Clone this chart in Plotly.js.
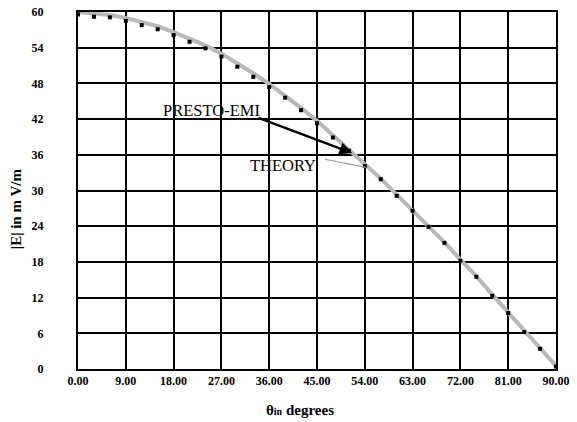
<!DOCTYPE html>
<html>
<head>
<meta charset="utf-8">
<script src="https://cdn.plot.ly/plotly-3.0.1.min.js"></script>
<style>html,body{margin:0;padding:0;background:#fff;}#chart{width:577px;height:422px;}</style>
</head>
<body>
<div id="chart"></div>
<script>
// Angle in degrees
const theta = [0,3,6,9,12,15,18,21,24,27,30,33,36,39,42,45,48,51,54,57,60,63,66,69,72,75,78,81,84,87,90];
// THEORY |E| (mV/m)
const theory = [60.0,59.8,59.5,59.0,58.3,57.6,56.6,55.5,54.4,53.0,51.4,49.7,47.9,46.0,43.9,41.7,39.3,37.0,34.4,32.0,29.3,26.7,24.0,21.3,18.4,15.6,12.5,9.5,6.4,3.3,0.5];
// PRESTO-EMI |E| (mV/m)
const presto = [59.6,59.2,59.1,58.5,57.8,57.1,56.1,55.0,53.9,52.5,50.8,49.1,47.4,45.6,43.5,41.3,38.9,36.7,34.1,31.9,29.1,26.6,23.9,21.2,18.2,15.5,12.3,9.4,6.2,3.4,0.4];
// Tick labels
const xTickVals = [0,9,18,27,36,45,54,63,72,81,90];
const xTickText = ["0.00","9.00","18.00","27.00","36.00","45.00","54.00","63.00","72.00","81.00","90.00"];
const yTickVals = [0,6,12,18,24,30,36,42,48,54,60];
const yTickText = ["0","6","12","18","24","30","36","42","48","54","60"];

const FAM = "Times New Roman";

const traces = [
  {x: theta, y: theory, type: 'scatter', mode: 'lines', name: 'THEORY',
   line: {color: '#b8b8b8', width: 4}, hoverinfo: 'skip'},
  {x: theta, y: presto, type: 'scatter', mode: 'markers', name: 'PRESTO-EMI',
   marker: {color: '#000', size: 4, symbol: 'square'}, hoverinfo: 'skip'}
];

const layout = {
  width: 577, height: 422,
  margin: {l: 78, r: 21, t: 12, b: 53},
  paper_bgcolor: '#fff', plot_bgcolor: '#fff',
  showlegend: false,
  xaxis: {
    range: [0, 90], tickvals: xTickVals, ticktext: xTickText,
    showgrid: true, gridcolor: '#000', gridwidth: 2,
    showline: true, linecolor: '#000', linewidth: 2, mirror: true,
    zeroline: false, ticks: '',
    tickfont: {family: FAM, size: 12, color: '#000', weight: 'bold'}
  },
  yaxis: {
    range: [0, 60], tickvals: yTickVals, ticktext: yTickText,
    showgrid: true, gridcolor: '#000', gridwidth: 2,
    showline: true, linecolor: '#000', linewidth: 2, mirror: true,
    zeroline: false, ticks: '', ticklabelstandoff: 30,
    tickfont: {family: FAM, size: 12, color: '#000', weight: 'bold'}
  },
  annotations: [
    {xref: 'paper', yref: 'paper', x: 0.465, y: -0.115, xanchor: 'center', yanchor: 'middle', showarrow: false,
     text: "<b>θ<span style='font-size:10px'>in</span> degrees</b>",
     font: {family: FAM, size: 15, color: '#000'}},
    {xref: 'paper', yref: 'paper', x: -0.128, y: 0.45, xanchor: 'center', yanchor: 'middle', showarrow: false, textangle: -90,
     text: "<b>|E| in m V/m</b>",
     font: {family: FAM, size: 15, color: '#000'}},
    {xref: 'x', yref: 'y', x: 25.2, y: 43.4, xanchor: 'center', yanchor: 'middle', showarrow: false,
     text: "PRESTO-EMI", font: {family: FAM, size: 16.5, color: '#000'}},
    {xref: 'x', yref: 'y', x: 51.6, y: 36.3, axref: 'x', ayref: 'y', ax: 33.7, ay: 42.3,
     text: '', showarrow: true, arrowhead: 2, arrowsize: 1, arrowwidth: 2.5, arrowcolor: '#000'},
    {xref: 'x', yref: 'y', x: 38.6, y: 34.2, xanchor: 'center', yanchor: 'middle', showarrow: false,
     text: "THEORY", font: {family: FAM, size: 16.5, color: '#000'}},
    {xref: 'x', yref: 'y', x: 54.2, y: 33.9, axref: 'x', ayref: 'y', ax: 46.2, ay: 35.3,
     text: '', showarrow: true, arrowhead: 0, arrowwidth: 1.2, arrowcolor: '#999'}
  ]
};

Plotly.newPlot('chart', traces, layout, {staticPlot: true, displayModeBar: false});
</script>
</body>
</html>
